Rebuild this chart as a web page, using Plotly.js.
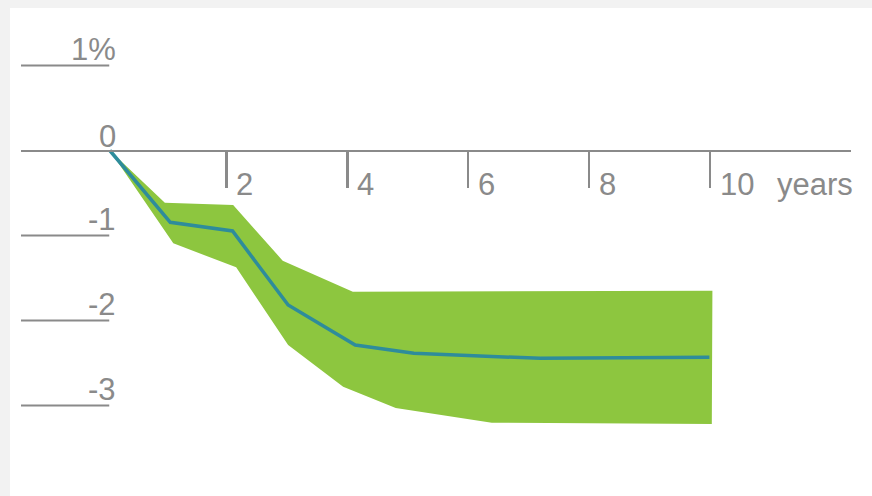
<!DOCTYPE html>
<html>
<head>
<meta charset="utf-8">
<script src="https://cdn.plot.ly/plotly-3.0.1.min.js"></script>
<style>
  html, body { margin: 0; padding: 0; background: #f2f2f2; width: 872px; height: 496px; overflow: hidden; }
  #chart { position: absolute; left: 10px; top: 8px; width: 862px; height: 488px; background: #fff; }
</style>
</head>
<body>
<div id="chart"></div>
<script>
// ---- data ----
const lineX = [0.07, 1.07, 2.10, 3.02, 4.13, 5.10, 7.19, 9.99];
const lineY = [0, -0.845, -0.947, -1.818, -2.288, -2.386, -2.445, -2.433];

const upperX = [0.07, 0.98, 2.11, 2.93, 4.09, 10.04];
const upperY = [0, -0.614, -0.641, -1.296, -1.661, -1.649];

const lowerX = [0.07, 1.12, 2.16, 3.02, 3.93, 4.80, 6.39, 10.03];
const lowerY = [0, -1.092, -1.374, -2.288, -2.779, -3.029, -3.202, -3.218];

const xTickVals = [2, 4, 6, 8, 10];
const xTickLabels = ['2', '4', '6', '8', '10'];
const xUnit = 'years';

const yTickVals = [1, 0, -1, -2, -3];
const yTickLabels = ['1%', '0', '-1', '-2', '-3'];

// ---- styles ----
const GRAY = '#8a8a8a';
const GREEN = '#8dc63f';
const TEAL = '#2e8c9b';
const FONT = 'Liberation Sans, Arial, Helvetica, sans-serif';
const FS = 31;

const xRange = [-1.40, 12.333];
const yRange = [-3.7588, 1.4176];

// band polygon: upper edge forward, lower edge backward
const bandX = upperX.concat(lowerX.slice().reverse());
const bandY = upperY.concat(lowerY.slice().reverse());

const traces = [
  {
    x: bandX, y: bandY, type: 'scatter', mode: 'lines',
    fill: 'toself', fillcolor: GREEN,
    line: { width: 0, color: GREEN }, hoverinfo: 'skip', showlegend: false
  },
  {
    x: lineX, y: lineY, type: 'scatter', mode: 'lines',
    line: { width: 3.5, color: TEAL }, showlegend: false
  }
];

const shapes = yTickVals.filter(v => v !== 0).map(v => ({
  type: 'line', xref: 'x', yref: 'y',
  x0: xRange[0], x1: 0.06, y0: v, y1: v,
  line: { color: GRAY, width: 2 }
}));

const annotations = [];
yTickVals.forEach((v, i) => {
  annotations.push({
    xref: 'x', yref: 'y', x: 0.205, y: v,
    text: yTickLabels[i], showarrow: false,
    xanchor: 'right', yanchor: 'bottom',
    yshift: v === 0 ? -5 : -3,
    font: { family: FONT, size: FS, color: GRAY }
  });
});
xTickVals.forEach((v, i) => {
  annotations.push({
    xref: 'x', yref: 'y', x: v, y: 0,
    text: xTickLabels[i], showarrow: false,
    xanchor: 'left', yanchor: 'middle',
    xshift: 8, yshift: -34,
    font: { family: FONT, size: FS, color: GRAY }
  });
});
annotations.push({
  xref: 'paper', yref: 'y', x: 1, y: 0,
  text: xUnit, showarrow: false,
  xanchor: 'right', yanchor: 'middle',
  xshift: 4, yshift: -34,
  font: { family: FONT, size: FS, color: GRAY }
});

const layout = {
  width: 862, height: 488,
  margin: { l: 11, r: 21, t: 22, b: 26 },
  paper_bgcolor: '#ffffff', plot_bgcolor: '#ffffff',
  showlegend: false,
  xaxis: {
    range: xRange, anchor: 'free', position: 0.726,
    showgrid: false, zeroline: false,
    showline: true, linecolor: GRAY, linewidth: 2,
    tickmode: 'array', tickvals: xTickVals,
    ticks: 'outside', ticklen: 36, tickwidth: 2.5, tickcolor: GRAY,
    showticklabels: false, fixedrange: true
  },
  yaxis: {
    range: yRange, showgrid: false, zeroline: false,
    showline: false, showticklabels: false, ticks: '', fixedrange: true
  },
  shapes: shapes,
  annotations: annotations
};

Plotly.newPlot('chart', traces, layout, { displayModeBar: false, staticPlot: true });
</script>
</body>
</html>
